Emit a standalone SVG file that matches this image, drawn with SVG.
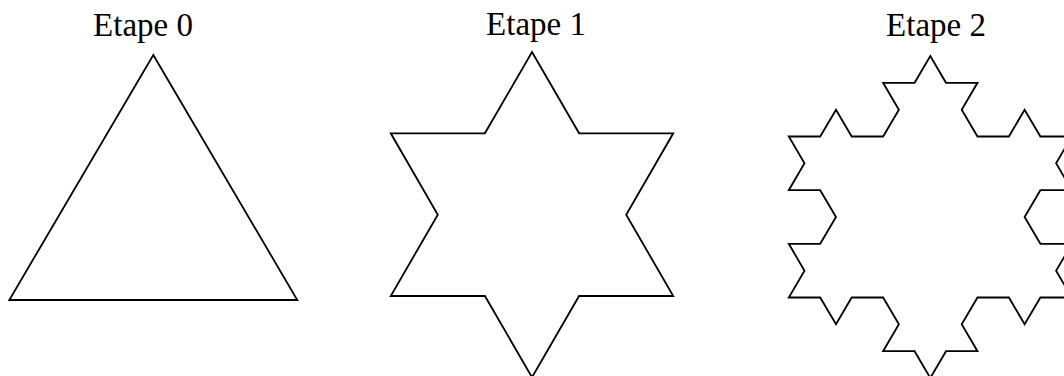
<svg xmlns="http://www.w3.org/2000/svg" width="1064" height="376" viewBox="0 0 1064 376">
  <style>
    .shape { fill: none; stroke: #000; stroke-width: 1.8; stroke-linejoin: miter; }
    .label { font-family: "Liberation Serif", "Times New Roman", serif; font-size: 33px; fill: #000; text-anchor: middle; }
  </style>
  <rect width="1064" height="376" fill="#fff"/>
  <g id="etape0">
    <text class="label" x="143" y="36">Etape 0</text>
    <polygon class="shape" points="153.3,55 297.3,300 9.3,300"/>
  </g>
  <g id="etape1">
    <text class="label" x="536" y="35">Etape 1</text>
    <polygon class="shape" points="532,52 579.1,133.3 673.25,133.3 626.2,214.7 673.25,296 579.1,296 532,377.3 484.9,296 390.75,296 437.8,214.7 390.75,133.3 484.9,133.3"/>
  </g>
  <g id="etape2">
    <text class="label" x="936" y="36">Etape 2</text>
    <polygon class="shape" points="930.3,56 946.0,82.8 977.5,82.8 961.7,109.7 977.5,136.5 1008.9,136.5 1024.6,109.7 1040.4,136.5 1071.8,136.5 1056.1,163.3 1071.8,190.2 1040.4,190.2 1024.6,217.0 1040.4,243.8 1071.8,243.8 1056.1,270.7 1071.8,297.5 1040.4,297.5 1024.6,324.3 1008.9,297.5 977.5,297.5 961.7,324.3 977.5,351.2 946.0,351.2 930.3,378.0 914.6,351.2 883.1,351.2 898.9,324.3 883.1,297.5 851.7,297.5 836.0,324.3 820.2,297.5 788.8,297.5 804.5,270.7 788.8,243.8 820.2,243.8 836.0,217.0 820.2,190.2 788.8,190.2 804.5,163.3 788.8,136.5 820.2,136.5 836.0,109.7 851.7,136.5 883.1,136.5 898.9,109.7 883.1,82.8 914.6,82.8"/>
  </g>
  <g id="connectors"/>
</svg>
